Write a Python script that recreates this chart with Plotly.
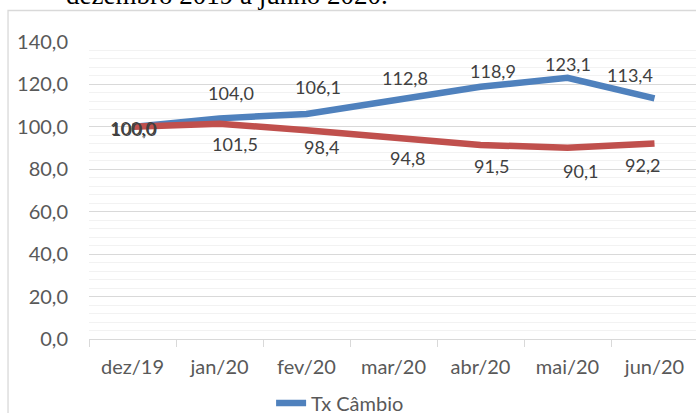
import plotly.graph_objects as go

MESES = ["dez/19", "jan/20", "fev/20", "mar/20", "abr/20", "mai/20", "jun/20"]
TX_CAMBIO = [100.0, 104.0, 106.1, 112.8, 118.9, 123.1, 113.4]
SERIE_2 = [100.0, 101.5, 98.4, 94.8, 91.5, 90.1, 92.2]

BLUE = "#4F81BD"
RED = "#C0504D"
GRID = "#D9D9D9"
MINOR = "#F2F2F2"
TICK_TXT = "#595959"
LABEL_TXT = "#404040"
FONT = "Lato, Carlito, sans-serif"

# manual label offsets (px), as placed in the original spreadsheet chart
BLUE_SHIFT = [(0, -1), (11, 25), (11, 27), (11, 22), (12, 16), (0, 14), (-25, 23)]
RED_SHIFT = [(1, -2), (15, -20), (15, -17), (14, -20), (11, -21), (13, -23), (-12, -22)]


def _fmt(v: float) -> str:
    return f"{v:.1f}".replace(".", ",")


fig = go.Figure()
fig.add_trace(
    go.Scatter(
        x=MESES, y=TX_CAMBIO, mode="lines", name="Tx Câmbio",
        line=dict(color=BLUE, width=6.5),
    )
)
fig.add_trace(
    go.Scatter(
        x=MESES, y=SERIE_2, mode="lines", showlegend=False,
        line=dict(color=RED, width=6.5),
    )
)

for values, shifts in ((TX_CAMBIO, BLUE_SHIFT), (SERIE_2, RED_SHIFT)):
    for mes, v, (dx, dy) in zip(MESES, values, shifts):
        fig.add_annotation(
            x=mes, y=v, text=_fmt(v), showarrow=False,
            xshift=dx, yshift=dy,
            font=dict(family=FONT, size=18, color=LABEL_TXT),
        )

# chart-area border
fig.add_shape(
    type="rect", xref="paper", yref="paper",
    x0=-0.1334, x1=1.05, y0=-0.4, y1=1.106,
    line=dict(color=GRID, width=1.3), layer="below",
)

# caption cut off above the chart
fig.add_annotation(
    text="dezembro 2019 a junho 2020.", xref="paper", yref="paper",
    x=-0.041, y=1.10, xanchor="left", yanchor="bottom", showarrow=False,
    font=dict(family="Liberation Serif, serif", size=27, color="#000000"),
)

fig.update_xaxes(
    type="category", range=[-0.5, 6.477], tickson="boundaries",
    ticks="outside", ticklen=7, tickcolor=GRID, tickwidth=1,
    showline=True, linecolor=GRID, linewidth=1, showgrid=False,
    tickfont=dict(family=FONT, size=20, color=TICK_TXT),
    ticklabelstandoff=10, fixedrange=True, automargin=False,
)
fig.update_yaxes(
    range=[0, 140], dtick=20, tickformat=".1f",
    showgrid=True, gridcolor=GRID, gridwidth=1, zeroline=False,
    minor=dict(dtick=4, showgrid=True, gridcolor=MINOR, gridwidth=1),
    tickfont=dict(family=FONT, size=20, color=TICK_TXT),
    ticklabelstandoff=20, fixedrange=True, automargin=False,
)
fig.update_layout(
    width=696, height=413,
    template="plotly_white",
    separators=",.",
    paper_bgcolor="white", plot_bgcolor="white",
    margin=dict(l=89, r=0, t=41.5, b=74, autoexpand=False),
    showlegend=True,
    legend=dict(
        orientation="h", x=0.30, xanchor="left", y=-0.15, yanchor="top",
        font=dict(family=FONT, size=20, color=TICK_TXT),
        bgcolor="rgba(0,0,0,0)",
    ),
    hovermode=False,
)

fig.write_html(
    "out.html",
    config={"displayModeBar": False},
    post_script="document.body.style.margin='0';document.body.style.overflow='hidden';",
)
